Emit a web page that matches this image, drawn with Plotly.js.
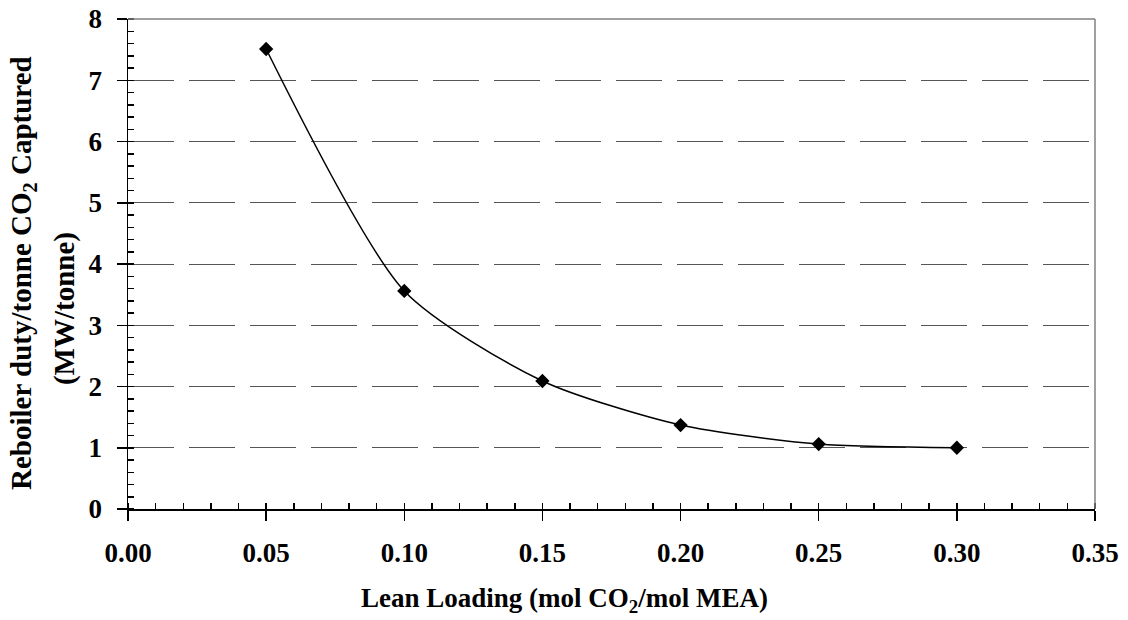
<!DOCTYPE html>
<html>
<head>
<meta charset="utf-8">
<script src="https://cdn.plot.ly/plotly-3.0.1.min.js"></script>
<style>html,body{margin:0;padding:0;background:#fff;}#chart{width:1128px;height:620px;}</style>
</head>
<body>
<div id="chart"></div>
<script>
const leanLoading = [0.05, 0.10, 0.15, 0.20, 0.25, 0.30];
const reboilerDuty = [7.51, 3.56, 2.09, 1.37, 1.06, 1.00];
const xTickVals = [0, 0.05, 0.10, 0.15, 0.20, 0.25, 0.30, 0.35];
const xTickText = ["0.00", "0.05", "0.10", "0.15", "0.20", "0.25", "0.30", "0.35"];
const yTickVals = [0, 1, 2, 3, 4, 5, 6, 7, 8];
const yTickText = ["0", "1", "2", "3", "4", "5", "6", "7", "8"];
const xTitle = "Lean Loading (mol CO<sub>2</sub>/mol MEA)";
const yTitleLine1 = "Reboiler duty/tonne CO<sub>2</sub> Captured";
const yTitleLine2 = "(MW/tonne)";

const font = "Liberation Serif, Times New Roman, serif";
const bold = s => "<b>" + s + "</b>";

const trace = {
  x: leanLoading,
  y: reboilerDuty,
  type: "scatter",
  mode: "lines+markers",
  line: {color: "#000", width: 1.5, shape: "spline", smoothing: 0.7},
  marker: {symbol: "diamond", size: 11, color: "#000"},
  showlegend: false,
  hoverinfo: "x+y"
};

const tickFont = {family: font, size: 27, color: "#000"};

const layout = {
  width: 1128, height: 620,
  margin: {l: 128, r: 33, t: 19, b: 111},
  paper_bgcolor: "#fff", plot_bgcolor: "#fff",
  font: {family: font, color: "#000"},
  xaxis: {
    range: [0, 0.35], tickvals: xTickVals, ticktext: xTickText.map(bold),
    ticks: "outside", ticklen: 10, tickwidth: 1.5, tickcolor: "#000",
    minor: {dtick: 0.01, ticks: "inside", ticklen: 6, tickwidth: 1.5, tickcolor: "#000", showgrid: false},
    showline: true, linecolor: "#000", linewidth: 1.5,
    showgrid: false, zeroline: false,
    tickfont: tickFont,
    ticklabelstandoff: 9
  },
  xaxis2: {
    overlaying: "x", anchor: "y", side: "bottom",
    range: [0, 0.35], tickvals: xTickVals, showticklabels: false,
    ticks: "inside", ticklen: 6, tickwidth: 1.5, tickcolor: "#000",
    showline: false, showgrid: false, zeroline: false
  },
  yaxis: {
    range: [0, 8], tickvals: yTickVals, ticktext: yTickText.map(bold),
    ticks: "outside", ticklen: 10, tickwidth: 1.5, tickcolor: "#000",
    minor: {dtick: 0.2, ticks: "inside", ticklen: 6, tickwidth: 1.5, tickcolor: "#000", showgrid: false},
    showline: true, linecolor: "#000", linewidth: 1.5,
    showgrid: true, gridcolor: "#555", gridwidth: 1, griddash: "46px,15px",
    zeroline: false,
    tickfont: tickFont,
    ticklabelstandoff: 9
  },
  yaxis2: {
    overlaying: "y", anchor: "x", side: "left",
    range: [0, 8], tickvals: yTickVals, showticklabels: false,
    ticks: "inside", ticklen: 6, tickwidth: 1.5, tickcolor: "#000",
    showline: false, showgrid: false, zeroline: false
  },
  annotations: [
    {text: bold(xTitle), xref: "paper", yref: "paper", x: 0.4509, y: -0.186,
     xanchor: "center", yanchor: "middle", showarrow: false,
     font: {family: font, size: 27, color: "#000"}},
    {text: bold(yTitleLine1), xref: "paper", yref: "paper", x: -0.1086, y: 0.4816,
     xanchor: "center", yanchor: "middle", showarrow: false, textangle: -90,
     font: {family: font, size: 29, color: "#000"}},
    {text: bold(yTitleLine2), xref: "paper", yref: "paper", x: -0.0662, y: 0.410,
     xanchor: "center", yanchor: "middle", showarrow: false, textangle: -90,
     font: {family: font, size: 29, color: "#000"}}
  ],
  shapes: [
    {type: "line", xref: "paper", yref: "paper", x0: 0, x1: 1, y0: 1, y1: 1, line: {color: "#808080", width: 1.5}},
    {type: "line", xref: "paper", yref: "paper", x0: 1, x1: 1, y0: 0, y1: 1, line: {color: "#808080", width: 1.5}}
  ]
};

Plotly.newPlot("chart", [trace], layout, {displayModeBar: false, staticPlot: true});
</script>
</body>
</html>
